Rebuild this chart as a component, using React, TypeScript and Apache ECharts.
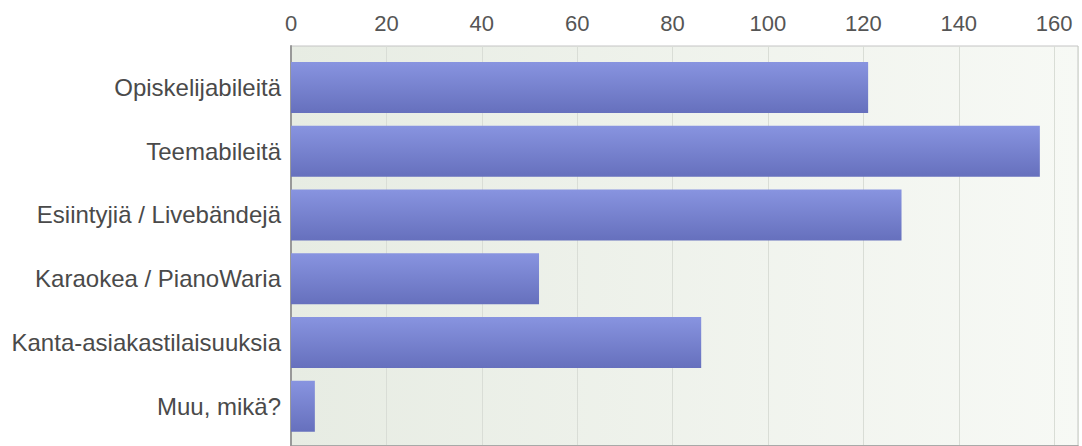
import React, { useEffect, useRef } from "react";
import * as echarts from "echarts";

const categories = [
  "Opiskelijabileitä",
  "Teemabileitä",
  "Esiintyjiä / Livebändejä",
  "Karaokea / PianoWaria",
  "Kanta-asiakastilaisuuksia",
  "Muu, mikä?",
];
const values = [121, 157, 128, 52, 86, 5];
const axisMax = 165;
const tickStep = 20;

export default function App() {
  const ref = useRef<HTMLDivElement>(null);
  useEffect(() => {
    document.body.style.margin = "0";
    const chart = echarts.init(ref.current!, null, { renderer: "svg" });
    const font = "'Liberation Sans', Arial, sans-serif";
    chart.setOption({
      animation: false,
      backgroundColor: "#ffffff",
      grid: [
        {
          left: 291,
          right: 4,
          top: 46,
          bottom: -12,
          show: true,
          borderColor: "#c4c4c4",
          borderWidth: 1,
          backgroundColor: new echarts.graphic.LinearGradient(0, 0, 1, 0, [
            { offset: 0, color: "#e7ece3" },
            { offset: 1, color: "#f7f9f5" },
          ]),
        },
        { left: 291, right: 4, top: 55.6, bottom: 8 },
      ],
      xAxis: [
        {
          gridIndex: 0,
          type: "value",
          position: "top",
          min: 0,
          max: axisMax,
          interval: tickStep,
          axisLine: { show: true, lineStyle: { color: "#999999", width: 1.5 } },
          axisTick: { show: true, inside: true, length: 5, lineStyle: { color: "#999999" } },
          axisLabel: {
            show: true,
            margin: 12,
            fontSize: 22,
            color: "#555555",
            fontFamily: font,
            showMaxLabel: false,
            formatter: (v: number) => (v % tickStep === 0 ? String(v) : ""),
          },
          splitLine: { show: true, lineStyle: { color: "#d9ddd6", width: 1 } },
        },
        {
          gridIndex: 1,
          type: "value",
          min: 0,
          max: axisMax,
          show: false,
        },
      ],
      yAxis: [
        {
          gridIndex: 0,
          type: "value",
          axisLine: { show: true, lineStyle: { color: "#999999", width: 2 } },
          axisTick: { show: false },
          axisLabel: { show: false },
          splitLine: { show: false },
        },
        {
          gridIndex: 1,
          type: "category",
          inverse: true,
          data: categories,
          axisLine: { show: false },
          axisTick: { show: false },
          axisLabel: {
            margin: 10,
            fontSize: 24,
            color: "#4a4a4a",
            fontFamily: font,
          },
        },
      ],
      series: [
        {
          type: "bar",
          xAxisIndex: 1,
          yAxisIndex: 1,
          data: values,
          barCategoryGap: "20%",
          itemStyle: {
            color: new echarts.graphic.LinearGradient(0, 0, 0, 1, [
              { offset: 0, color: "#8894e0" },
              { offset: 1, color: "#6670bd" },
            ]),
          },
        },
      ],
    });
    return () => chart.dispose();
  }, []);
  return (
    <div
      ref={ref}
      style={{ position: "fixed", left: 0, top: 0, width: 1082, height: 446 }}
    />
  );
}
